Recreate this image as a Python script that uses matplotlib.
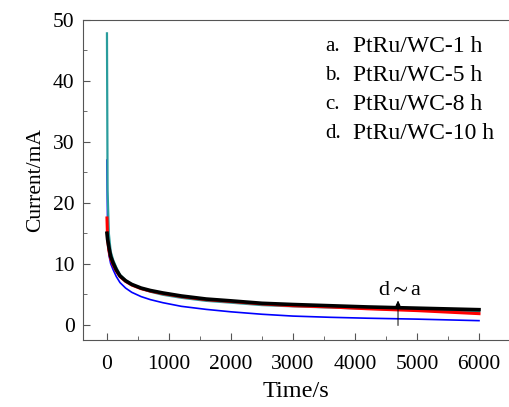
import matplotlib
matplotlib.use('Agg')
import matplotlib.pyplot as plt
from matplotlib.ticker import MultipleLocator

matplotlib.rcParams.update({'font.size': 14, 'font.family': 'Liberation Serif',
                            'mathtext.fontset': 'stix'})

# time (s) and current (mA)
t = [0, 10, 30, 60, 100, 150, 210, 300, 400, 550, 700, 900, 1200, 1600,
     2000, 2500, 3000, 3600, 4200, 5000, 6000]
i_a = [15, 14, 12.8, 11.2, 10.1, 9.0, 8.0, 7.2, 6.6, 6.0, 5.6, 5.2, 4.7, 4.2,
       3.9, 3.5, 3.3, 3.1, 2.9, 2.7, 2.45]
i_b = [17.5, 14, 12.2, 10.8, 9.8, 8.8, 7.9, 7.1, 6.5, 5.9, 5.5, 5.1, 4.6, 4.1,
       3.8, 3.4, 3.1, 2.9, 2.6, 2.3, 1.8]
i_c = [47.8, 22, 15, 12, 10.6, 9.4, 8.2, 7.3, 6.6, 5.9, 5.4, 4.9, 4.4, 3.9,
       3.6, 3.2, 3.0, 2.8, 2.6, 2.4, 2.1]
i_d = [27, 16, 11.5, 10, 9.0, 7.9, 6.9, 6.0, 5.3, 4.6, 4.1, 3.6, 3.0, 2.5,
       2.1, 1.7, 1.4, 1.2, 1.05, 0.9, 0.65]

letters = ['a.', 'b.', 'c.', 'd.']
names = ['PtRu/WC-1 h', 'PtRu/WC-5 h', 'PtRu/WC-8 h', 'PtRu/WC-10 h']

f = plt.figure(figsize=(5.09, 4.07), dpi=100)
ax = f.add_axes([0.163, 0.165, 0.837, 0.786])

ax.plot(t, i_d, color='#0000ff', lw=1.2)
ax.plot(t, i_c, color='#2a9d9d', lw=1.6)
ax.plot(t, i_b, color='#ff0000', lw=2.2)
ax.plot(t, i_a, color='black', lw=2.6)

ax.set_xlim(-387, 6484)
ax.set_ylim(-2.5, 50)
ax.xaxis.set_major_locator(MultipleLocator(1000))
ax.xaxis.set_minor_locator(MultipleLocator(500))
ax.yaxis.set_major_locator(MultipleLocator(10))
ax.yaxis.set_minor_locator(MultipleLocator(5))
ax.tick_params(which='both', direction='in', top=False, right=False,
               labelsize=15.5, colors='#555555', labelcolor='black')
ax.tick_params(which='major', length=5)
ax.tick_params(axis='x', which='major', pad=11)
ax.tick_params(axis='y', which='major', pad=6)
ax.tick_params(which='minor', length=3)
for s in ['left', 'bottom', 'top']:
    ax.spines[s].set_color('#555555')
ax.spines['right'].set_visible(False)

ax.set_xlabel('Time/s', fontsize=17.5, labelpad=5)
ax.set_ylabel('Current/mA', fontsize=15.5, labelpad=6)

for k in range(4):
    y = 45.6 - 4.75 * k
    ax.text(3516, y, letters[k], fontsize=15, va='center')
    ax.text(3968, y, names[k], fontsize=17, va='center')

ax.annotate('', xy=(4694, 4.4), xytext=(4694, -0.6),
            arrowprops=dict(arrowstyle='-|>', color='black', lw=0.7,
                            mutation_scale=7))
ax.text(4726, 5.6, r'd$\sim$a', fontsize=16, ha='center', va='center')

f.savefig('out.png', dpi=100)
